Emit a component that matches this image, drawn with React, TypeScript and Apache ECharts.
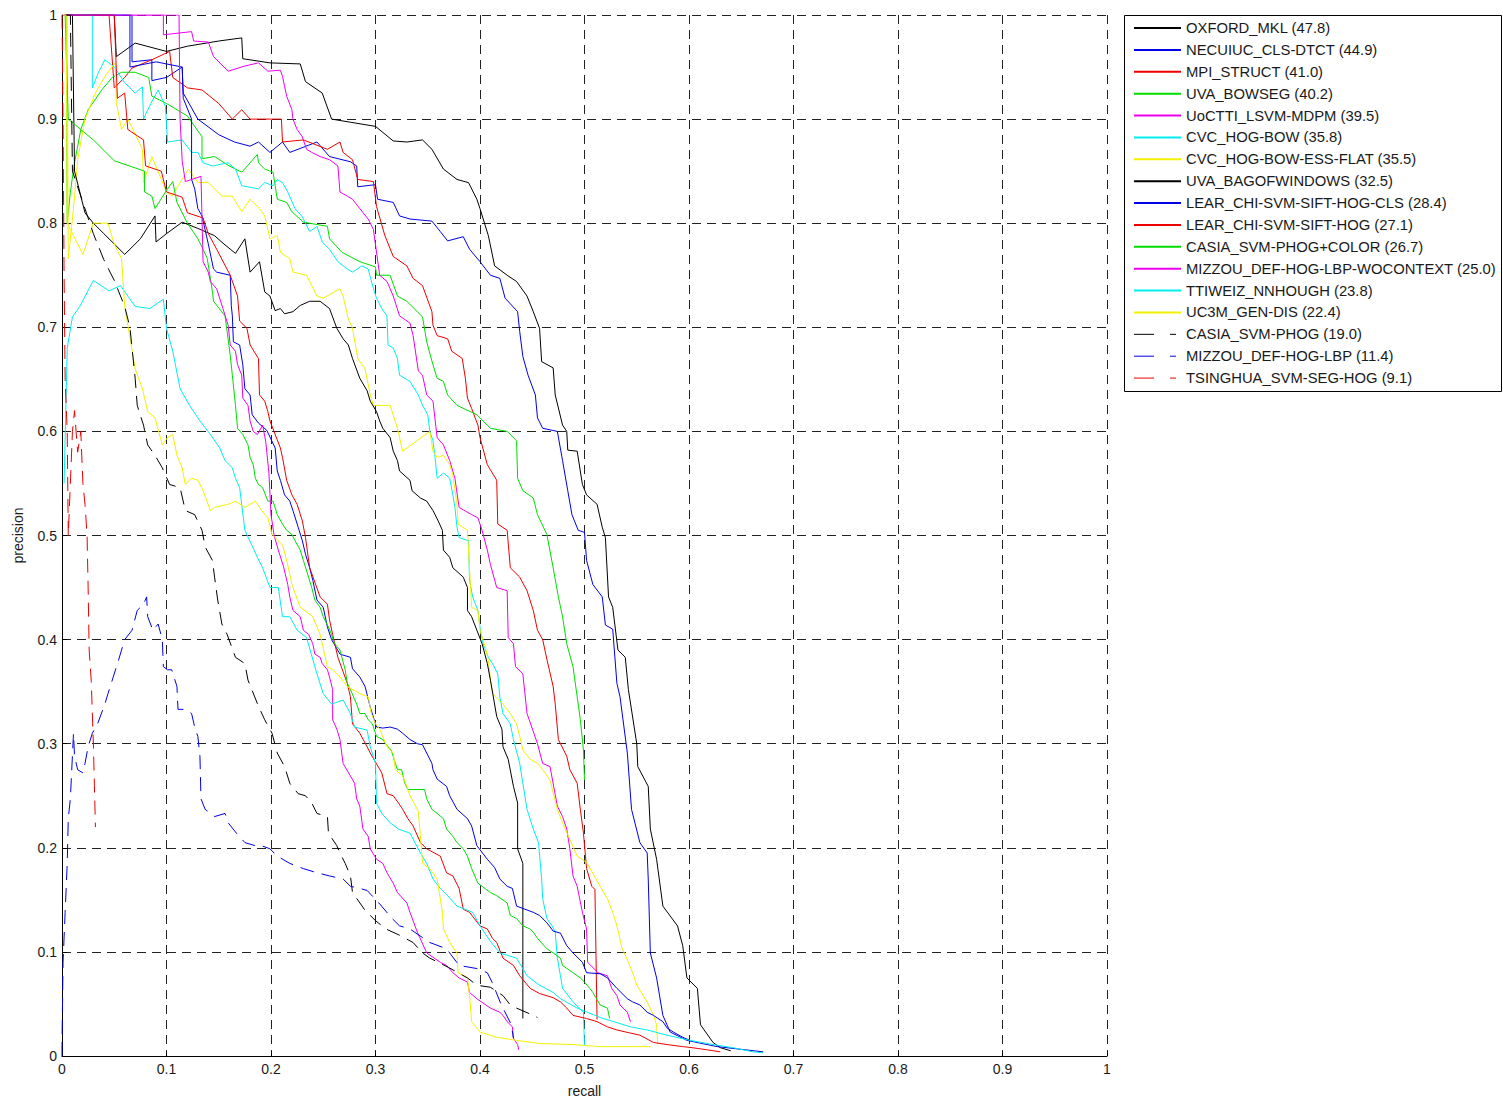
import React, { useEffect, useRef } from "react";
import * as echarts from "echarts";

const xTicks = [0, 0.1, 0.2, 0.3, 0.4, 0.5, 0.6, 0.7, 0.8, 0.9, 1];

const OXFORD_MKL = [[0.004,1],[0.05,1],[0.052,0.96],[0.07,0.973],[0.1,0.965],[0.12,0.97],[0.15,0.975],[0.172,0.978],[0.173,0.958],[0.199,0.954],[0.228,0.953],[0.233,0.936],[0.249,0.925],[0.258,0.9],[0.276,0.897],[0.3,0.893],[0.317,0.879],[0.33,0.878],[0.345,0.88],[0.354,0.871],[0.365,0.852],[0.378,0.842],[0.389,0.839],[0.397,0.823],[0.4,0.814],[0.408,0.788],[0.414,0.759],[0.426,0.75],[0.435,0.744],[0.445,0.73],[0.451,0.715],[0.457,0.699],[0.459,0.667],[0.47,0.661],[0.472,0.635],[0.479,0.606],[0.483,0.6],[0.484,0.582],[0.493,0.581],[0.498,0.549],[0.502,0.539],[0.512,0.53],[0.517,0.508],[0.52,0.498],[0.523,0.441],[0.527,0.431],[0.532,0.39],[0.539,0.383],[0.542,0.352],[0.55,0.3],[0.551,0.278],[0.561,0.259],[0.563,0.218],[0.569,0.189],[0.575,0.144],[0.589,0.125],[0.594,0.106],[0.598,0.075],[0.608,0.065],[0.611,0.03],[0.623,0.013],[0.63,0.008],[0.64,0.005]];

const NECUIUC = [[0.003,1],[0.067,1],[0.067,0.955],[0.086,0.957],[0.086,0.937],[0.1,0.94],[0.115,0.95],[0.116,0.925],[0.13,0.9],[0.15,0.885],[0.165,0.878],[0.18,0.874],[0.188,0.878],[0.199,0.868],[0.211,0.878],[0.218,0.868],[0.244,0.878],[0.256,0.864],[0.276,0.859],[0.282,0.855],[0.283,0.835],[0.3,0.837],[0.302,0.823],[0.317,0.82],[0.323,0.807],[0.333,0.804],[0.354,0.802],[0.362,0.792],[0.369,0.783],[0.384,0.787],[0.39,0.775],[0.4,0.763],[0.41,0.75],[0.419,0.747],[0.424,0.728],[0.436,0.715],[0.438,0.696],[0.441,0.672],[0.446,0.654],[0.453,0.635],[0.455,0.613],[0.46,0.603],[0.474,0.6],[0.479,0.572],[0.484,0.543],[0.488,0.52],[0.494,0.505],[0.5,0.503],[0.502,0.476],[0.508,0.453],[0.517,0.441],[0.52,0.414],[0.527,0.41],[0.531,0.358],[0.534,0.345],[0.541,0.291],[0.545,0.237],[0.553,0.205],[0.56,0.195],[0.561,0.17],[0.563,0.099],[0.569,0.075],[0.575,0.039],[0.582,0.023],[0.598,0.015],[0.627,0.009],[0.671,0.004]];

const MPI_STRUCT = [[0.003,1],[0.045,1],[0.05,0.93],[0.06,0.94],[0.067,0.949],[0.086,0.957],[0.103,0.965],[0.106,0.94],[0.12,0.93],[0.134,0.928],[0.15,0.915],[0.163,0.9],[0.172,0.909],[0.18,0.9],[0.199,0.9],[0.21,0.9],[0.211,0.878],[0.231,0.88],[0.254,0.871],[0.266,0.878],[0.269,0.868],[0.278,0.861],[0.283,0.842],[0.298,0.84],[0.301,0.816],[0.309,0.788],[0.317,0.768],[0.33,0.759],[0.336,0.747],[0.345,0.74],[0.354,0.715],[0.355,0.702],[0.359,0.692],[0.369,0.689],[0.373,0.677],[0.383,0.67],[0.386,0.651],[0.388,0.632],[0.392,0.622],[0.398,0.606],[0.4,0.594],[0.407,0.568],[0.416,0.553],[0.417,0.511],[0.426,0.505],[0.429,0.469],[0.438,0.46],[0.445,0.447],[0.451,0.428],[0.455,0.409],[0.46,0.4],[0.464,0.381],[0.47,0.355],[0.472,0.338],[0.475,0.304],[0.483,0.288],[0.486,0.275],[0.493,0.262],[0.496,0.237],[0.499,0.214],[0.502,0.18],[0.507,0.163],[0.51,0.16],[0.512,0.035]];

const UVA_BOWSEG = [[0.002,1],[0.004,1],[0.005,0.8],[0.008,0.83],[0.012,0.858],[0.018,0.89],[0.025,0.909],[0.038,0.928],[0.048,0.94],[0.057,0.945],[0.07,0.945],[0.083,0.94],[0.086,0.922],[0.1,0.915],[0.12,0.903],[0.134,0.883],[0.134,0.862],[0.146,0.864],[0.16,0.855],[0.172,0.849],[0.187,0.866],[0.188,0.858],[0.194,0.852],[0.202,0.849],[0.206,0.823],[0.215,0.82],[0.22,0.811],[0.231,0.801],[0.254,0.797],[0.256,0.785],[0.268,0.772],[0.285,0.763],[0.3,0.758],[0.301,0.75],[0.314,0.75],[0.321,0.73],[0.33,0.725],[0.345,0.71],[0.349,0.686],[0.355,0.664],[0.359,0.651],[0.365,0.648],[0.369,0.635],[0.378,0.625],[0.397,0.616],[0.41,0.603],[0.426,0.6],[0.435,0.591],[0.436,0.555],[0.441,0.543],[0.451,0.536],[0.455,0.52],[0.464,0.501],[0.47,0.469],[0.475,0.441],[0.479,0.422],[0.483,0.396],[0.489,0.374],[0.493,0.345],[0.496,0.323],[0.499,0.294],[0.5,0.265]];

const UOCTTI = [[0.002,1],[0.097,1],[0.097,0.981],[0.124,0.984],[0.126,0.975],[0.14,0.974],[0.145,0.96],[0.159,0.946],[0.175,0.951],[0.188,0.954],[0.197,0.946],[0.209,0.947],[0.211,0.941],[0.215,0.922],[0.22,0.909],[0.221,0.9],[0.225,0.89],[0.23,0.883],[0.234,0.871],[0.239,0.868],[0.247,0.864],[0.256,0.861],[0.264,0.855],[0.266,0.83],[0.273,0.826],[0.278,0.823],[0.285,0.814],[0.293,0.804],[0.298,0.794],[0.304,0.75],[0.311,0.744],[0.317,0.73],[0.323,0.711],[0.333,0.704],[0.336,0.692],[0.341,0.658],[0.345,0.654],[0.349,0.635],[0.355,0.629],[0.359,0.594],[0.365,0.587],[0.371,0.572],[0.376,0.555],[0.38,0.527],[0.392,0.52],[0.398,0.517],[0.402,0.505],[0.407,0.486],[0.41,0.472],[0.416,0.45],[0.426,0.447],[0.427,0.402],[0.432,0.396],[0.434,0.374],[0.441,0.367],[0.445,0.329],[0.455,0.3],[0.46,0.281],[0.467,0.278],[0.474,0.24],[0.479,0.23],[0.483,0.218],[0.486,0.199],[0.489,0.173],[0.493,0.163],[0.498,0.138],[0.502,0.122],[0.503,0.09],[0.513,0.08],[0.522,0.077],[0.526,0.065],[0.531,0.058],[0.534,0.049],[0.541,0.042],[0.544,0.033]];

const CVC_HOG_BOW = [[0.002,1],[0.029,1],[0.029,0.93],[0.035,0.945],[0.041,0.957],[0.05,0.95],[0.06,0.935],[0.07,0.925],[0.077,0.931],[0.078,0.9],[0.085,0.915],[0.092,0.928],[0.099,0.912],[0.101,0.878],[0.115,0.88],[0.124,0.868],[0.13,0.868],[0.135,0.858],[0.144,0.855],[0.159,0.858],[0.166,0.852],[0.172,0.836],[0.188,0.833],[0.194,0.839],[0.202,0.836],[0.206,0.842],[0.211,0.839],[0.216,0.83],[0.223,0.814],[0.23,0.806],[0.237,0.792],[0.244,0.797],[0.249,0.782],[0.256,0.775],[0.264,0.763],[0.273,0.756],[0.278,0.753],[0.287,0.759],[0.293,0.756],[0.298,0.737],[0.301,0.728],[0.306,0.718],[0.311,0.711],[0.312,0.683],[0.317,0.68],[0.321,0.67],[0.323,0.654],[0.333,0.648],[0.341,0.635],[0.345,0.625],[0.35,0.616],[0.352,0.6],[0.355,0.591],[0.357,0.575],[0.359,0.555],[0.365,0.56],[0.371,0.555],[0.374,0.539],[0.376,0.527],[0.378,0.508],[0.38,0.498],[0.389,0.495],[0.39,0.457],[0.393,0.441],[0.398,0.428],[0.4,0.412],[0.403,0.396],[0.408,0.383],[0.412,0.377],[0.417,0.367],[0.419,0.345],[0.422,0.329],[0.429,0.319],[0.432,0.304],[0.438,0.281],[0.441,0.262],[0.445,0.237],[0.451,0.218],[0.456,0.205],[0.459,0.17],[0.46,0.151],[0.464,0.132],[0.469,0.125],[0.472,0.119],[0.474,0.094],[0.477,0.077],[0.479,0.065],[0.489,0.052],[0.499,0.042],[0.5,0.01]];

const CVC_ESS_FLAT = [[0.001,1],[0.005,1],[0.006,0.766],[0.011,0.814],[0.015,0.861],[0.022,0.9],[0.032,0.925],[0.041,0.941],[0.051,0.954],[0.052,0.916],[0.057,0.89],[0.063,0.9],[0.077,0.871],[0.078,0.839],[0.086,0.864],[0.1,0.83],[0.105,0.826],[0.121,0.852],[0.13,0.839],[0.14,0.839],[0.153,0.826],[0.163,0.826],[0.172,0.811],[0.18,0.823],[0.189,0.814],[0.194,0.807],[0.199,0.785],[0.206,0.788],[0.209,0.772],[0.218,0.766],[0.221,0.753],[0.234,0.75],[0.239,0.74],[0.244,0.73],[0.25,0.728],[0.266,0.737],[0.269,0.73],[0.274,0.708],[0.278,0.699],[0.283,0.67],[0.29,0.66],[0.295,0.635],[0.298,0.625],[0.314,0.625],[0.321,0.603],[0.326,0.581],[0.352,0.6],[0.355,0.581],[0.359,0.575],[0.365,0.577],[0.371,0.568],[0.374,0.558],[0.378,0.53],[0.379,0.511],[0.388,0.505],[0.39,0.467],[0.392,0.431],[0.398,0.428],[0.4,0.409],[0.405,0.393],[0.408,0.38],[0.41,0.361],[0.412,0.348],[0.422,0.338],[0.429,0.329],[0.435,0.319],[0.438,0.307],[0.441,0.294],[0.448,0.285],[0.455,0.281],[0.46,0.275],[0.467,0.265],[0.474,0.237],[0.479,0.224],[0.486,0.208],[0.493,0.192],[0.502,0.186],[0.515,0.163],[0.522,0.151],[0.527,0.138],[0.531,0.125],[0.536,0.103],[0.539,0.097],[0.546,0.08],[0.55,0.068],[0.56,0.052],[0.566,0.039],[0.569,0.03],[0.57,0.011]];

const UVA_BAGOFWINDOWS = [[0.003,1],[0.01,1],[0.012,0.85],[0.022,0.81],[0.03,0.8],[0.04,0.79],[0.05,0.78],[0.06,0.77],[0.075,0.785],[0.089,0.807],[0.09,0.782],[0.1,0.79],[0.115,0.801],[0.13,0.795],[0.146,0.788],[0.155,0.78],[0.166,0.771],[0.175,0.785],[0.18,0.753],[0.189,0.763],[0.194,0.734],[0.199,0.73],[0.204,0.716],[0.209,0.718],[0.213,0.713],[0.221,0.715],[0.228,0.721],[0.237,0.725],[0.247,0.725],[0.256,0.718],[0.263,0.699],[0.269,0.689],[0.274,0.683],[0.278,0.67],[0.285,0.651],[0.292,0.639],[0.295,0.629],[0.301,0.619],[0.304,0.61],[0.307,0.603],[0.314,0.594],[0.317,0.581],[0.321,0.572],[0.323,0.562],[0.333,0.553],[0.335,0.543],[0.343,0.536],[0.349,0.533],[0.355,0.524],[0.36,0.514],[0.364,0.505],[0.365,0.486],[0.371,0.479],[0.374,0.469],[0.384,0.46],[0.388,0.45],[0.388,0.428],[0.392,0.422],[0.397,0.409],[0.402,0.396],[0.407,0.377],[0.41,0.361],[0.416,0.326],[0.421,0.314],[0.422,0.297],[0.427,0.285],[0.432,0.259],[0.436,0.243],[0.436,0.199],[0.441,0.185],[0.441,0.036]];

const LEAR_CLS = [[0.004,1],[0.065,1],[0.065,0.95],[0.09,0.955],[0.115,0.95],[0.116,0.92],[0.124,0.9],[0.124,0.842],[0.127,0.833],[0.13,0.814],[0.134,0.807],[0.14,0.78],[0.145,0.756],[0.148,0.753],[0.161,0.75],[0.162,0.721],[0.163,0.711],[0.164,0.686],[0.17,0.683],[0.173,0.664],[0.175,0.641],[0.18,0.635],[0.182,0.616],[0.188,0.608],[0.196,0.601],[0.204,0.584],[0.206,0.562],[0.209,0.553],[0.213,0.539],[0.218,0.533],[0.221,0.524],[0.226,0.508],[0.23,0.495],[0.233,0.482],[0.237,0.469],[0.24,0.457],[0.244,0.438],[0.25,0.431],[0.254,0.412],[0.258,0.4],[0.266,0.386],[0.276,0.383],[0.278,0.372],[0.285,0.364],[0.29,0.355],[0.295,0.335],[0.301,0.316],[0.307,0.315],[0.314,0.316],[0.321,0.314],[0.326,0.31],[0.333,0.304],[0.34,0.3],[0.345,0.299],[0.349,0.291],[0.354,0.281],[0.355,0.275],[0.359,0.266],[0.368,0.259],[0.371,0.25],[0.378,0.237],[0.388,0.228],[0.392,0.221],[0.397,0.202],[0.407,0.189],[0.414,0.181],[0.419,0.17],[0.426,0.163],[0.431,0.161],[0.435,0.144],[0.451,0.138],[0.457,0.135],[0.464,0.128],[0.47,0.12],[0.477,0.118],[0.483,0.106],[0.489,0.099],[0.498,0.09],[0.502,0.08],[0.515,0.079],[0.522,0.075],[0.531,0.065],[0.541,0.055],[0.546,0.052],[0.553,0.049],[0.56,0.042],[0.566,0.039],[0.575,0.033],[0.579,0.027],[0.585,0.023],[0.594,0.018],[0.601,0.015]];

const LEAR_HOG = [[0.004,1],[0.05,1],[0.053,0.92],[0.06,0.925],[0.063,0.89],[0.078,0.88],[0.08,0.855],[0.095,0.85],[0.1,0.83],[0.115,0.825],[0.12,0.81],[0.135,0.805],[0.14,0.79],[0.148,0.775],[0.161,0.75],[0.168,0.73],[0.17,0.706],[0.177,0.699],[0.18,0.683],[0.188,0.67],[0.189,0.635],[0.194,0.629],[0.197,0.619],[0.199,0.61],[0.209,0.584],[0.211,0.575],[0.215,0.553],[0.22,0.539],[0.225,0.53],[0.23,0.514],[0.233,0.498],[0.237,0.469],[0.247,0.441],[0.254,0.434],[0.256,0.419],[0.259,0.405],[0.264,0.383],[0.273,0.358],[0.276,0.345],[0.278,0.319],[0.285,0.31],[0.292,0.297],[0.295,0.291],[0.306,0.272],[0.311,0.252],[0.317,0.25],[0.322,0.243],[0.326,0.237],[0.331,0.228],[0.336,0.221],[0.343,0.205],[0.349,0.199],[0.362,0.192],[0.368,0.176],[0.374,0.173],[0.38,0.161],[0.384,0.141],[0.39,0.138],[0.4,0.125],[0.407,0.122],[0.412,0.113],[0.416,0.109],[0.422,0.094],[0.432,0.087],[0.438,0.077],[0.448,0.065],[0.457,0.06],[0.47,0.056],[0.477,0.052],[0.483,0.046],[0.489,0.039],[0.502,0.036],[0.512,0.033],[0.522,0.028],[0.531,0.025],[0.544,0.022],[0.553,0.02],[0.566,0.013],[0.579,0.011],[0.594,0.009],[0.603,0.008],[0.617,0.006],[0.63,0.004]];

const CASIA_PHOG_COLOR = [[0.003,1],[0.006,0.9],[0.03,0.88],[0.05,0.86],[0.079,0.85],[0.079,0.83],[0.086,0.826],[0.089,0.814],[0.099,0.83],[0.106,0.84],[0.11,0.82],[0.12,0.8],[0.13,0.785],[0.135,0.775],[0.139,0.766],[0.142,0.747],[0.144,0.734],[0.145,0.725],[0.156,0.711],[0.158,0.696],[0.161,0.673],[0.163,0.654],[0.166,0.625],[0.168,0.603],[0.173,0.597],[0.178,0.587],[0.18,0.575],[0.183,0.568],[0.185,0.555],[0.188,0.549],[0.192,0.546],[0.197,0.533],[0.202,0.533],[0.206,0.52],[0.211,0.511],[0.215,0.505],[0.22,0.501],[0.223,0.495],[0.228,0.486],[0.231,0.476],[0.235,0.463],[0.239,0.45],[0.242,0.438],[0.247,0.431],[0.25,0.422],[0.256,0.41],[0.261,0.396],[0.266,0.39],[0.271,0.371],[0.273,0.358],[0.276,0.352],[0.282,0.338],[0.285,0.329],[0.29,0.329],[0.293,0.323],[0.297,0.319],[0.301,0.307],[0.307,0.304],[0.312,0.297],[0.315,0.294],[0.319,0.281],[0.321,0.275],[0.325,0.275],[0.328,0.262],[0.331,0.256],[0.347,0.256],[0.349,0.247],[0.354,0.237],[0.359,0.233],[0.365,0.228],[0.368,0.218],[0.374,0.211],[0.378,0.205],[0.384,0.199],[0.388,0.192],[0.392,0.18],[0.398,0.166],[0.402,0.163],[0.41,0.157],[0.416,0.154],[0.426,0.147],[0.429,0.135],[0.435,0.132],[0.441,0.125],[0.448,0.122],[0.451,0.119],[0.455,0.113],[0.464,0.103],[0.47,0.099],[0.477,0.094],[0.479,0.087],[0.489,0.08],[0.496,0.075],[0.5,0.071],[0.505,0.065],[0.508,0.061],[0.515,0.049],[0.522,0.046],[0.524,0.036]];

const MIZZOU_WOCONTEXT = [[0.002,1],[0.112,1],[0.113,0.9],[0.115,0.86],[0.118,0.84],[0.133,0.845],[0.135,0.763],[0.14,0.753],[0.142,0.744],[0.148,0.737],[0.154,0.718],[0.159,0.702],[0.161,0.683],[0.166,0.677],[0.168,0.664],[0.172,0.654],[0.173,0.632],[0.178,0.625],[0.18,0.61],[0.183,0.6],[0.187,0.597],[0.192,0.606],[0.195,0.59],[0.198,0.56],[0.2,0.52],[0.203,0.5],[0.207,0.486],[0.212,0.47],[0.216,0.453],[0.218,0.441],[0.221,0.428],[0.228,0.422],[0.231,0.409],[0.236,0.405],[0.24,0.396],[0.242,0.386],[0.247,0.383],[0.249,0.377],[0.254,0.371],[0.256,0.364],[0.259,0.352],[0.259,0.323],[0.263,0.314],[0.266,0.304],[0.269,0.281],[0.276,0.269],[0.28,0.262],[0.282,0.247],[0.285,0.24],[0.288,0.218],[0.293,0.211],[0.295,0.199],[0.301,0.189],[0.307,0.185],[0.311,0.176],[0.317,0.166],[0.321,0.157],[0.33,0.147],[0.333,0.138],[0.34,0.119],[0.349,0.099],[0.362,0.09],[0.368,0.087],[0.374,0.08],[0.38,0.075],[0.388,0.071],[0.39,0.061],[0.397,0.055],[0.41,0.046],[0.419,0.042],[0.422,0.039],[0.426,0.033],[0.431,0.028],[0.432,0.017],[0.436,0.011],[0.437,0.006]];

const TTIWEIZ = [[0.002,0.55],[0.005,0.68],[0.01,0.71],[0.017,0.72],[0.03,0.745],[0.045,0.735],[0.056,0.74],[0.07,0.72],[0.084,0.718],[0.097,0.727],[0.1,0.699],[0.106,0.677],[0.113,0.641],[0.122,0.625],[0.132,0.61],[0.142,0.597],[0.151,0.584],[0.156,0.572],[0.163,0.565],[0.166,0.555],[0.17,0.546],[0.175,0.505],[0.187,0.479],[0.192,0.469],[0.199,0.45],[0.207,0.45],[0.211,0.422],[0.218,0.422],[0.225,0.409],[0.234,0.402],[0.244,0.367],[0.25,0.348],[0.258,0.338],[0.269,0.342],[0.276,0.329],[0.28,0.316],[0.292,0.313],[0.295,0.297],[0.3,0.281],[0.301,0.243],[0.306,0.233],[0.314,0.224],[0.322,0.218],[0.333,0.214],[0.343,0.195],[0.349,0.185],[0.355,0.17],[0.362,0.161],[0.369,0.154],[0.378,0.144],[0.393,0.138],[0.4,0.125],[0.41,0.11],[0.419,0.099],[0.435,0.094],[0.445,0.077],[0.457,0.068],[0.47,0.061],[0.477,0.055],[0.493,0.046],[0.515,0.037],[0.544,0.028],[0.56,0.025],[0.579,0.02],[0.601,0.015],[0.623,0.011],[0.642,0.008],[0.661,0.004],[0.671,0.003]];

const UC3M_GEN_DIS = [[0.001,1],[0.004,1],[0.005,0.8],[0.02,0.77],[0.03,0.8],[0.044,0.8],[0.05,0.78],[0.057,0.766],[0.06,0.72],[0.065,0.69],[0.07,0.66],[0.077,0.641],[0.082,0.619],[0.089,0.613],[0.096,0.587],[0.101,0.594],[0.106,0.597],[0.11,0.577],[0.115,0.565],[0.118,0.549],[0.124,0.555],[0.13,0.553],[0.135,0.543],[0.142,0.524],[0.146,0.527],[0.159,0.53],[0.166,0.533],[0.175,0.527],[0.185,0.533],[0.191,0.524],[0.197,0.517],[0.201,0.501],[0.211,0.491],[0.216,0.472],[0.22,0.453],[0.228,0.431],[0.24,0.422],[0.247,0.405],[0.254,0.374],[0.259,0.371],[0.266,0.364],[0.273,0.355],[0.285,0.348],[0.293,0.345],[0.296,0.329],[0.3,0.319],[0.304,0.314],[0.311,0.297],[0.317,0.291],[0.319,0.275],[0.326,0.269],[0.33,0.259],[0.333,0.25],[0.341,0.235],[0.343,0.211],[0.345,0.185],[0.352,0.18],[0.359,0.17],[0.362,0.151],[0.364,0.138],[0.365,0.122],[0.371,0.109],[0.378,0.099],[0.379,0.08],[0.388,0.075],[0.39,0.058],[0.392,0.033],[0.4,0.023],[0.416,0.018],[0.435,0.015],[0.457,0.012],[0.489,0.011],[0.515,0.009],[0.563,0.009]];

const CASIA_PHOG = [[0.004,1],[0.008,1],[0.01,0.85],[0.02,0.82],[0.03,0.79],[0.04,0.765],[0.05,0.745],[0.06,0.72],[0.065,0.7],[0.07,0.651],[0.072,0.625],[0.078,0.606],[0.082,0.587],[0.089,0.577],[0.096,0.565],[0.103,0.549],[0.113,0.546],[0.118,0.524],[0.127,0.52],[0.134,0.505],[0.137,0.489],[0.144,0.476],[0.146,0.46],[0.149,0.438],[0.153,0.415],[0.158,0.405],[0.166,0.383],[0.175,0.377],[0.178,0.361],[0.188,0.336],[0.194,0.323],[0.201,0.31],[0.206,0.291],[0.213,0.278],[0.218,0.262],[0.226,0.252],[0.233,0.25],[0.239,0.243],[0.244,0.233],[0.254,0.23],[0.255,0.214],[0.263,0.202],[0.266,0.195],[0.271,0.185],[0.276,0.173],[0.278,0.157],[0.29,0.14],[0.3,0.13],[0.31,0.122],[0.323,0.116],[0.336,0.109],[0.345,0.099],[0.352,0.094],[0.37,0.085],[0.388,0.075],[0.397,0.068],[0.41,0.066],[0.422,0.058],[0.429,0.049],[0.435,0.046],[0.451,0.039],[0.455,0.037]];

const MIZZOU_LBP = [[0,0],[0,0.011],[0.001,0.09],[0.003,0.138],[0.005,0.185],[0.006,0.228],[0.008,0.247],[0.011,0.31],[0.012,0.288],[0.015,0.275],[0.02,0.272],[0.022,0.281],[0.025,0.297],[0.029,0.31],[0.034,0.319],[0.041,0.338],[0.044,0.348],[0.049,0.364],[0.054,0.38],[0.06,0.4],[0.067,0.409],[0.072,0.428],[0.078,0.434],[0.081,0.441],[0.082,0.422],[0.087,0.409],[0.092,0.415],[0.096,0.4],[0.097,0.374],[0.101,0.371],[0.105,0.371],[0.11,0.355],[0.111,0.333],[0.118,0.333],[0.124,0.329],[0.127,0.316],[0.13,0.307],[0.132,0.288],[0.133,0.247],[0.137,0.237],[0.146,0.23],[0.156,0.233],[0.159,0.224],[0.167,0.214],[0.175,0.205],[0.185,0.202],[0.191,0.202],[0.199,0.199],[0.206,0.192],[0.218,0.185],[0.231,0.18],[0.244,0.176],[0.256,0.173],[0.269,0.17],[0.276,0.163],[0.285,0.161],[0.292,0.159],[0.305,0.145],[0.315,0.133],[0.323,0.125],[0.333,0.122],[0.352,0.109],[0.368,0.103],[0.38,0.087],[0.397,0.084],[0.407,0.08],[0.412,0.07],[0.42,0.05],[0.43,0.03],[0.432,0.017]];

const TSINGHUA = [[0,1],[0.001,0.9],[0.002,0.75],[0.003,0.65],[0.005,0.6],[0.006,0.5],[0.008,0.55],[0.01,0.6],[0.012,0.62],[0.015,0.58],[0.018,0.6],[0.02,0.55],[0.022,0.53],[0.024,0.5],[0.025,0.45],[0.026,0.39],[0.028,0.36],[0.029,0.33],[0.03,0.3],[0.031,0.26],[0.032,0.22]];

const seriesNames = [
  "OXFORD_MKL (47.8)",
  "NECUIUC_CLS-DTCT (44.9)",
  "MPI_STRUCT (41.0)",
  "UVA_BOWSEG (40.2)",
  "UoCTTI_LSVM-MDPM (39.5)",
  "CVC_HOG-BOW (35.8)",
  "CVC_HOG-BOW-ESS-FLAT (35.5)",
  "UVA_BAGOFWINDOWS (32.5)",
  "LEAR_CHI-SVM-SIFT-HOG-CLS (28.4)",
  "LEAR_CHI-SVM-SIFT-HOG (27.1)",
  "CASIA_SVM-PHOG+COLOR (26.7)",
  "MIZZOU_DEF-HOG-LBP-WOCONTEXT (25.0)",
  "TTIWEIZ_NNHOUGH (23.8)",
  "UC3M_GEN-DIS (22.4)",
  "CASIA_SVM-PHOG (19.0)",
  "MIZZOU_DEF-HOG-LBP (11.4)",
  "TSINGHUA_SVM-SEG-HOG (9.1)",
];

const seriesData = [
  OXFORD_MKL, NECUIUC, MPI_STRUCT, UVA_BOWSEG, UOCTTI, CVC_HOG_BOW, CVC_ESS_FLAT,
  UVA_BAGOFWINDOWS, LEAR_CLS, LEAR_HOG, CASIA_PHOG_COLOR, MIZZOU_WOCONTEXT,
  TTIWEIZ, UC3M_GEN_DIS, CASIA_PHOG, MIZZOU_LBP, TSINGHUA,
];

const BLACK = "#000000";
const BLUE = "#0000e6";
const RED = "#ee0000";
const GREEN = "#00dd00";
const MAGENTA = "#ee00ee";
const CYAN = "#00eeee";
const YELLOW = "#f2f200";

const seriesColors = [
  BLACK, BLUE, RED, GREEN, MAGENTA, CYAN, YELLOW,
  BLACK, BLUE, RED, GREEN, MAGENTA, CYAN, YELLOW,
  BLACK, BLUE, RED,
];

const dashedFlags = [
  false, false, false, false, false, false, false,
  false, false, false, false, false, false, false,
  true, true, true,
];

const FONT = "'Liberation Sans', Arial, Helvetica, sans-serif";

export default function App() {
  const ref = useRef<HTMLDivElement>(null);

  useEffect(() => {
    if (!ref.current) return;
    const chart = echarts.init(ref.current, undefined, { renderer: "svg" });

    const series = seriesNames.map((name, i) => ({
      name,
      type: "line",
      data: seriesData[i],
      showSymbol: false,
      symbol: "none",
      silent: true,
      lineStyle: {
        color: seriesColors[i],
        width: 1,
        type: dashedFlags[i] ? [14, 8] : "solid",
      },
      itemStyle: { color: seriesColors[i] },
    }));

    const legendData = seriesNames.map((name, i) =>
      dashedFlags[i]
        ? { name, lineStyle: { type: [20, 16, 6, 10], width: 1 } }
        : { name }
    );

    const tickFormatter = (v: number) => {
      const t = xTicks.find((x) => Math.abs(x - v) < 1e-9);
      return t === undefined ? "" : String(t);
    };

    chart.setOption({
      animation: false,
      backgroundColor: "#ffffff",
      textStyle: { fontFamily: FONT },
      grid: { left: 62, top: 15, width: 1045, height: 1046, containLabel: false },
      xAxis: {
        type: "value",
        min: 0,
        max: 1,
        interval: 0.1,
        name: "recall",
        nameLocation: "middle",
        nameGap: 28,
        nameTextStyle: { fontSize: 14, color: "#1a1a1a", fontFamily: FONT },
        axisLine: { show: true, onZero: false, lineStyle: { color: "#000", width: 1 } },
        axisTick: { show: true, inside: true, length: 5, lineStyle: { color: "#000" } },
        axisLabel: { fontSize: 14, color: "#1a1a1a", margin: 6, fontFamily: FONT, formatter: tickFormatter },
        splitLine: { show: true, lineStyle: { color: "#222", width: 1, type: [9, 6] } },
      },
      yAxis: {
        type: "value",
        min: 0,
        max: 1,
        interval: 0.1,
        name: "precision",
        nameLocation: "middle",
        nameGap: 37,
        nameRotate: 90,
        nameTextStyle: { fontSize: 14, color: "#1a1a1a", fontFamily: FONT },
        axisLine: { show: true, onZero: false, lineStyle: { color: "#000", width: 1 } },
        axisTick: { show: true, inside: true, length: 5, lineStyle: { color: "#000" } },
        axisLabel: { fontSize: 14, color: "#1a1a1a", margin: 5, fontFamily: FONT, formatter: tickFormatter },
        splitLine: { show: true, lineStyle: { color: "#222", width: 1, type: [9, 6] } },
      },
      legend: {
        orient: "vertical",
        left: 1133,
        top: 20.5,
        padding: 0,
        itemWidth: 47,
        itemHeight: 15,
        itemGap: 6.88,
        selectedMode: false,
        itemStyle: { color: "transparent", borderColor: "transparent", borderWidth: 0, opacity: 0 },
        textStyle: { fontSize: 14.8, color: "#1a1a1a", fontFamily: FONT },
        data: legendData,
      },
      graphic: [
        {
          type: "rect",
          shape: { x: 1124.5, y: 15.5, width: 377, height: 376 },
          style: { fill: "none", stroke: "#000", lineWidth: 1 },
          silent: true,
        },
      ],
      series,
    });

    return () => {
      chart.dispose();
    };
  }, []);

  return (
    <div
      ref={ref}
      style={{ position: "fixed", left: 0, top: 0, width: 1503, height: 1103, background: "#fff" }}
    />
  );
}
